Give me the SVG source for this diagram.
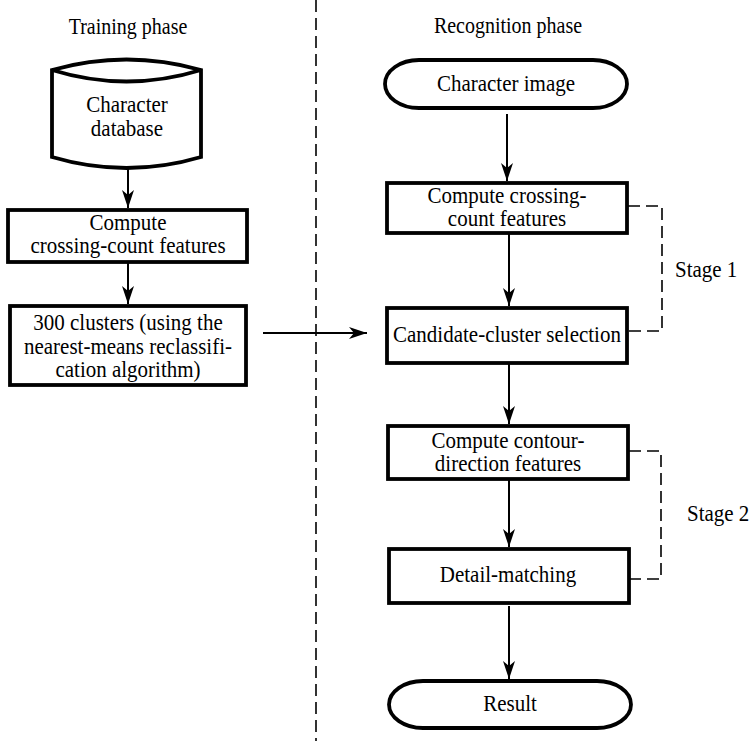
<svg xmlns="http://www.w3.org/2000/svg" width="751" height="741" viewBox="0 0 751 741">
<defs>
<marker id="ah" markerWidth="18" markerHeight="12" refX="18" refY="6" orient="auto" markerUnits="userSpaceOnUse" viewBox="0 0 18 12">
<path d="M0,0 L18,6 L0,12 L5,6 Z" fill="#000"/>
</marker>
</defs>
<style>
.box{fill:#fff;stroke:#000;stroke-width:3.8}
.ar{stroke:#000;stroke-width:2;fill:none;marker-end:url(#ah)}
.dash{stroke:#000;stroke-width:1.6;fill:none;stroke-dasharray:12,6}
</style>
<rect width="751" height="741" fill="#fff"/>
<g id="divider"><line class="dash" x1="316" y1="0" x2="316" y2="741"/></g>
<g id="titles" font-family="Liberation Serif, serif" font-size="20" text-anchor="middle" fill="#000">
<text x="128" y="34" transform="matrix(1 0 0 1.12 0 -4.08)">Training phase</text>
<text x="508" y="33" transform="matrix(1 0 0 1.12 0 -3.96)">Recognition phase</text>
</g>
<g id="connectors">
<line class="ar" x1="128" y1="169" x2="128" y2="208"/>
<line class="ar" x1="128" y1="263" x2="128" y2="304"/>
<line class="ar" x1="263" y1="333" x2="367" y2="333"/>
<line class="ar" x1="507" y1="114" x2="507" y2="181"/>
<line class="ar" x1="509" y1="234" x2="509" y2="306"/>
<line class="ar" x1="509" y1="364" x2="509" y2="424"/>
<line class="ar" x1="509" y1="480" x2="509" y2="547"/>
<line class="ar" x1="509" y1="606" x2="509" y2="679"/>
<path class="dash" d="M628,206 H662 V331 H628"/>
<path class="dash" d="M629,451 H661 V579 H629"/>
</g>
<g font-family="Liberation Serif, serif" font-size="21" text-anchor="middle" fill="#000">
<g id="db">
<path class="box" d="M52,70 V157 Q126.5,179 201,157 V70 Q126.5,49 52,70 Z"/>
<path d="M52,70 Q126.5,93 201,70" fill="none" stroke="#000" stroke-width="3.8"/>
<text x="127" y="112" transform="matrix(1 0 0 1.12 0 -13.44)">Character</text>
<text x="127" y="136" transform="matrix(1 0 0 1.12 0 -16.32)">database</text>
</g>
<g id="train-features">
<rect class="box" x="8" y="210" width="239" height="52"/>
<text x="128" y="230" transform="matrix(1 0 0 1.12 0 -27.6)">Compute</text>
<text x="128" y="253" transform="matrix(1 0 0 1.12 0 -30.36)">crossing-count features</text>
</g>
<g id="clusters">
<rect class="box" x="10" y="306" width="236" height="79"/>
<text x="128" y="330" transform="matrix(1 0 0 1.12 0 -39.6)">300 clusters (using the</text>
<text x="128" y="354" transform="matrix(1 0 0 1.12 0 -42.48)">nearest-means reclassifi-</text>
<text x="128" y="377" transform="matrix(1 0 0 1.12 0 -45.24)">cation algorithm)</text>
</g>
<g id="char-image">
<rect class="box" x="385" y="60" width="242" height="48" rx="34" ry="24"/>
<text x="506" y="91" transform="matrix(1 0 0 1.12 0 -10.92)">Character image</text>
</g>
<g id="rec-features">
<rect class="box" x="387" y="183" width="240" height="50"/>
<text x="507" y="203" transform="matrix(1 0 0 1.12 0 -24.36)">Compute crossing-</text>
<text x="507" y="226" transform="matrix(1 0 0 1.12 0 -27.12)">count features</text>
</g>
<g id="candidate">
<rect class="box" x="387" y="308" width="240" height="55"/>
<text x="507" y="342" transform="matrix(1 0 0 1.12 0 -41.04)">Candidate-cluster selection</text>
</g>
<g id="contour">
<rect class="box" x="388" y="426" width="240" height="53"/>
<text x="508" y="448" transform="matrix(1 0 0 1.12 0 -53.76)">Compute contour-</text>
<text x="508" y="471" transform="matrix(1 0 0 1.12 0 -56.52)">direction features</text>
</g>
<g id="detail">
<rect class="box" x="389" y="549" width="240" height="54"/>
<text x="508" y="582" transform="matrix(1 0 0 1.12 0 -69.84)">Detail-matching</text>
</g>
<g id="result">
<rect class="box" x="389" y="681" width="242" height="47" rx="34" ry="23.5"/>
<text x="510" y="711" transform="matrix(1 0 0 1.12 0 -85.32)">Result</text>
</g>
<g id="stages" text-anchor="start">
<text x="675" y="277" transform="matrix(1 0 0 1.12 0 -33.24)">Stage 1</text>
<text x="687" y="521" transform="matrix(1 0 0 1.12 0 -62.52)">Stage 2</text>
</g>
</g>
</svg>
